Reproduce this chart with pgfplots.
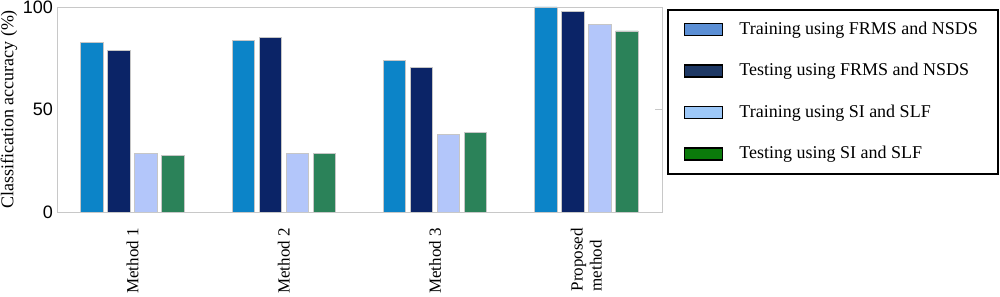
\documentclass[border=0pt]{standalone}
\usepackage{fontspec}
\setmainfont{Liberation Serif}
\setsansfont{Liberation Sans}
\usepackage{pgfplots}
\pgfplotsset{compat=1.18}

\definecolor{bar1}{HTML}{0C84C8}
\definecolor{bar2}{HTML}{0B2467}
\definecolor{bar3}{HTML}{B3C6FA}
\definecolor{bar4}{HTML}{2B8259}
\definecolor{leg1}{HTML}{5B8FD5}
\definecolor{leg2}{HTML}{1E3864}
\definecolor{leg3}{HTML}{9DC8F8}
\definecolor{leg4}{HTML}{0B7A0B}
\definecolor{frame}{HTML}{C8C8C8}

\begin{document}
\begin{tikzpicture}
\begin{axis}[
    scale only axis,
    width=302.5pt, height=102.5pt,
    ybar, bar width=11.25pt,
    xmin=-0.5, xmax=3.5,
    ymin=0, ymax=100,
    xtick={0,1,2,3},
    xticklabels={Method 1, Method 2, Method 3, {Proposed\\method}},
    xticklabel style={rotate=90, anchor=east, align=left, font=\fontsize{8.5}{9.5}\selectfont},
    xticklabel shift=4.5pt,
    xtick style={draw=none},
    ytick={0,50,100},
    ytick pos=right, yticklabel pos=left,
    tick align=inside, major tick length=3.5pt,
    ytick style={draw=frame},
    /pgf/number format/assume math mode=true,
    yticklabel style={font=\sffamily\fontsize{9}{10}\selectfont, xshift=1.5pt},
    ylabel={Classification accuracy (\%)},
    ylabel style={font=\fontsize{9}{10}\selectfont, yshift=-4pt},
    axis line style={draw=frame},
    legend image code/.code={\draw[#1, draw=black, line width=0.8pt] (0pt,-3pt) rectangle (19pt,3pt);},
    legend cell align=left,
    legend style={at={(1,1)}, xshift=2.5pt, yshift=-1pt, anchor=north west, draw=black, line width=0.8pt,
        font=\fontsize{9}{10}\selectfont, row sep=9pt, inner xsep=8pt, inner ysep=4pt,
        /tikz/every odd column/.append style={column sep=6pt}},
]
\addplot[fill=bar1, draw=gray!45, forget plot, bar shift=-20.25pt] coordinates {(0,82.6) (1,83.6) (2,73.8) (3,100)};
\addplot[fill=bar2, draw=gray!45, forget plot, bar shift=-6.75pt] coordinates {(0,78.7) (1,85.0) (2,70.7) (3,97.7)};
\addplot[fill=bar3, draw=gray!45, forget plot, bar shift=6.75pt] coordinates {(0,28.4) (1,28.4) (2,38.0) (3,91.5)};
\addplot[fill=bar4, draw=gray!45, forget plot, bar shift=20.25pt] coordinates {(0,27.6) (1,28.4) (2,38.7) (3,88.3)};
\addlegendimage{fill=leg1}
\addlegendentry{Training using FRMS and NSDS}
\addlegendimage{fill=leg2}
\addlegendentry{Testing using FRMS and NSDS}
\addlegendimage{fill=leg3}
\addlegendentry{Training using SI and SLF}
\addlegendimage{fill=leg4}
\addlegendentry{Testing using SI and SLF}
\coordinate (sw) at (rel axis cs:0,0);
\coordinate (ne) at (rel axis cs:1,1);
\end{axis}
\pgfresetboundingbox
\path ([xshift=-28.5pt,yshift=-42.5pt]sw) rectangle ([xshift=169pt,yshift=3.5pt]ne);
\end{tikzpicture}
\end{document}
